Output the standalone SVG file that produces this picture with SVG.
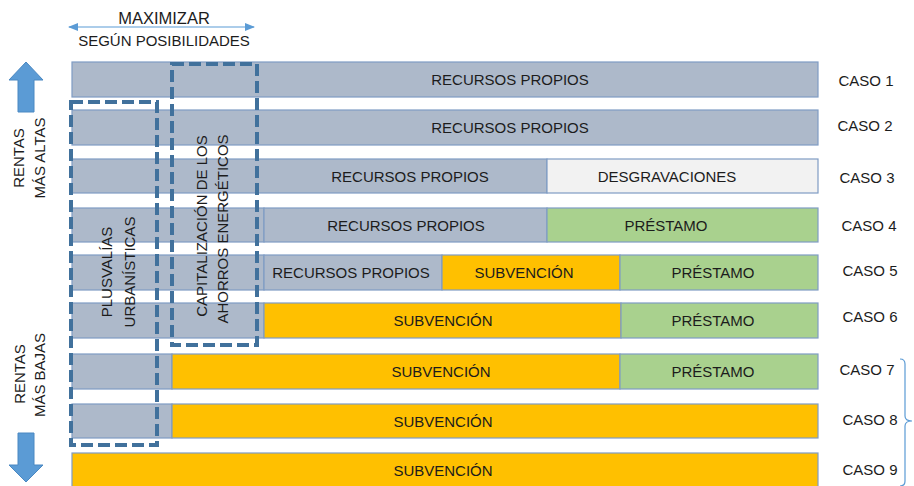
<svg xmlns="http://www.w3.org/2000/svg" width="914" height="486" viewBox="0 0 914 486">
<defs>
<style>
text{font-family:"Liberation Sans",Arial,sans-serif;font-size:15px;fill:#1c1c1c;}
.m{text-anchor:middle;}
.g{fill:#adb9ca;stroke:#7f9cc4;stroke-width:1.2;}
.o{fill:#ffc000;stroke:#7f9cc4;stroke-width:1.2;}
.v{fill:#a9d18e;stroke:#7f9cc4;stroke-width:1.2;}
.l{fill:#f2f2f2;stroke:#7f9cc4;stroke-width:1.2;}
.d{fill:none;stroke:#41719c;stroke-width:4;stroke-dasharray:12 5;}
.big{fill:#5b9bd5;stroke:#4a88c2;stroke-width:1;}
.thin{fill:none;stroke:#5b9bd5;stroke-width:1.2;}
</style>
<marker id="ah" viewBox="0 0 10 8" refX="9" refY="4" markerWidth="10" markerHeight="8" markerUnits="userSpaceOnUse" orient="auto-start-reverse">
<path d="M0,0 L10,4 L0,8 z" fill="#5b9bd5"/>
</marker>
</defs>
<rect width="914" height="486" fill="#fff"/>

<g id="caso1">
<rect class="g" x="72" y="62" width="746" height="35"/>
<text class="m" x="510" y="85">RECURSOS PROPIOS</text>
<text class="m" x="866" y="86">CASO 1</text>
</g>
<g id="caso2">
<rect class="g" x="72" y="110" width="746" height="35"/>
<text class="m" x="510" y="133">RECURSOS PROPIOS</text>
<text class="m" x="865" y="131">CASO 2</text>
</g>
<g id="caso3">
<rect class="g" x="72" y="159" width="475" height="34"/>
<rect class="l" x="547" y="159" width="271" height="34"/>
<text class="m" x="410" y="182">RECURSOS PROPIOS</text>
<text class="m" x="667" y="182">DESGRAVACIONES</text>
<text class="m" x="867" y="183">CASO 3</text>
</g>
<g id="caso4">
<rect class="g" x="72" y="208" width="192" height="34"/>
<rect class="g" x="264" y="208" width="283" height="34"/>
<rect class="v" x="547" y="208" width="271" height="34"/>
<text class="m" x="406" y="231">RECURSOS PROPIOS</text>
<text class="m" x="666" y="231">PRÉSTAMO</text>
<text class="m" x="869" y="231">CASO 4</text>
</g>
<g id="caso5">
<rect class="g" x="72" y="255" width="192" height="35"/>
<rect class="g" x="264" y="255" width="178" height="35"/>
<rect class="o" x="442" y="255" width="178" height="35"/>
<rect class="v" x="620" y="255" width="198" height="35"/>
<text class="m" x="351" y="278">RECURSOS PROPIOS</text>
<text class="m" x="524" y="278">SUBVENCIÓN</text>
<text class="m" x="713" y="278">PRÉSTAMO</text>
<text class="m" x="870" y="276">CASO 5</text>
</g>
<g id="caso6">
<rect class="g" x="72" y="303" width="192" height="35"/>
<rect class="o" x="264" y="303" width="357" height="35"/>
<rect class="v" x="621" y="303" width="197" height="35"/>
<text class="m" x="443" y="326">SUBVENCIÓN</text>
<text class="m" x="713" y="326">PRÉSTAMO</text>
<text class="m" x="870" y="322">CASO 6</text>
</g>
<g id="caso7">
<rect class="g" x="72" y="354" width="100" height="35"/>
<rect class="o" x="172" y="354" width="448" height="35"/>
<rect class="v" x="620" y="354" width="198" height="35"/>
<text class="m" x="441" y="377">SUBVENCIÓN</text>
<text class="m" x="713" y="377">PRÉSTAMO</text>
<text class="m" x="867" y="375">CASO 7</text>
</g>
<g id="caso8">
<rect class="g" x="72" y="404" width="100" height="34"/>
<rect class="o" x="172" y="404" width="646" height="34"/>
<text class="m" x="443" y="427">SUBVENCIÓN</text>
<text class="m" x="870" y="425">CASO 8</text>
</g>
<g id="caso9">
<rect class="o" x="72" y="453" width="746" height="34"/>
<text class="m" x="443" y="476">SUBVENCIÓN</text>
<text class="m" x="870" y="475">CASO 9</text>
</g>

<g id="plusvalias">
<rect class="d" x="71" y="102" width="86" height="343"/>
<text class="m" transform="translate(112,272) rotate(-90)">PLUSVALÍAS</text>
<text class="m" transform="translate(135,272) rotate(-90)">URBANÍSTICAS</text>
</g>
<g id="capitalizacion">
<rect class="d" x="172" y="64" width="85" height="281"/>
<text class="m" transform="translate(207,226) rotate(-90)">CAPITALIZACIÓN DE LOS</text>
<text class="m" transform="translate(228,229) rotate(-90)">AHORROS ENERGÉTICOS</text>
</g>

<g id="maximizar">
<text class="m" x="164" y="24" style="font-size:16.5px">MAXIMIZAR</text>
<text class="m" x="164" y="46">SEGÚN POSIBILIDADES</text>
</g>
<g id="rentas-altas">
<path class="big" d="M26,62 L43,80 L34,80 L34,112 L18,112 L18,80 L9,80 z"/>
<text class="m" transform="translate(24,158) rotate(-90)">RENTAS</text>
<text class="m" transform="translate(45,158) rotate(-90)">MÁS ALTAS</text>
</g>
<g id="rentas-bajas">
<path class="big" d="M18,433 L34,433 L34,465 L43,465 L26,482 L9,465 L18,465 z"/>
<text class="m" transform="translate(25,374) rotate(-90)">RENTAS</text>
<text class="m" transform="translate(45,375) rotate(-90)">MÁS BAJAS</text>
</g>

<g id="connectors">
<line class="thin" x1="69" y1="27" x2="254" y2="27" marker-start="url(#ah)" marker-end="url(#ah)"/>
<path class="thin" d="M900,359 Q905,359 905,364 L905,416 Q905,421 912,421 Q905,421 905,426 L905,481 Q905,486 900,486"/>
</g>
</svg>
